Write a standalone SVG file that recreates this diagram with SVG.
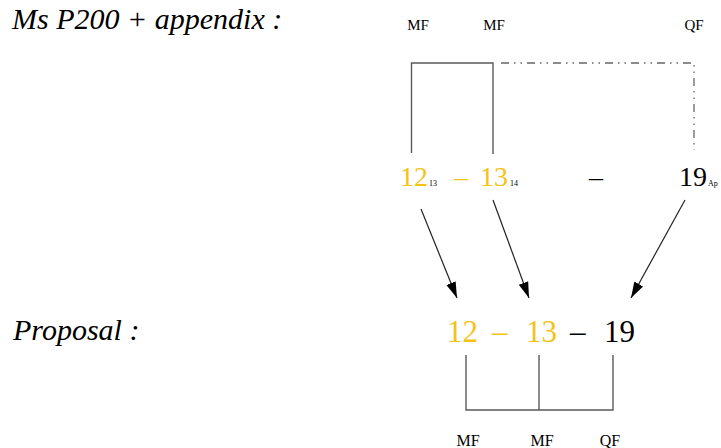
<svg xmlns="http://www.w3.org/2000/svg" width="721" height="448" viewBox="0 0 721 448">
<defs>
<style>
.t{font-family:"Liberation Serif","Times New Roman",serif;}
.ti{font-family:"Liberation Serif","Times New Roman",serif;font-style:italic;font-size:30px;fill:#000;}
.lab{font-size:15px;fill:#000;text-anchor:middle;}
.blab{font-size:16px;fill:#000;text-anchor:middle;}
.num{font-size:28px;}
.bnum{font-size:31px;}
.sub{font-size:8px;}
.y{fill:#F3C318;}
.k{fill:#000;}
.br{fill:none;stroke:#5a5a5a;stroke-width:1.4;}
.dd{fill:none;stroke:#666;stroke-width:1.3;stroke-dasharray:8 5 1.5 5 1.5 5;}
.ar{stroke:#222;stroke-width:1.2;fill:none;marker-end:url(#ah);}
</style>
<marker id="ah" markerUnits="userSpaceOnUse" markerWidth="17" markerHeight="12" refX="16" refY="5" orient="auto" viewBox="0 0 17 10">
<path d="M0,0 L16,5 L0,10 z" fill="#000"/>
</marker>
</defs>
<rect width="721" height="448" fill="#fff"/>
<g id="title-ms">
<text class="ti" x="12" y="29">Ms P200 + appendix :</text>
</g>
<g id="title-proposal">
<text class="ti" x="13" y="340">Proposal :</text>
</g>
<g id="top-labels" class="t">
<text class="t lab" x="418" y="30">MF</text>
<text class="t lab" x="494" y="30">MF</text>
<text class="t lab" x="694" y="30">QF</text>
</g>
<g id="ms-row" class="t">
<text class="t num y" x="400" y="186">12</text>
<text class="t sub k" x="429" y="186">13</text>
<text class="t num y" x="454" y="186">–</text>
<text class="t num y" x="480" y="186">13</text>
<text class="t sub k" x="510" y="186">14</text>
<text class="t num k" x="589" y="186">–</text>
<text class="t num k" x="679" y="186">19</text>
<text class="t sub k" x="708" y="186">Ap</text>
</g>
<g id="proposal-row" class="t">
<text class="t bnum y" x="447" y="342">12</text>
<text class="t bnum y" x="492" y="342">–</text>
<text class="t bnum y" x="526" y="342">13</text>
<text class="t bnum k" x="570" y="342">–</text>
<text class="t bnum k" x="604" y="342">19</text>
</g>
<g id="bottom-labels">
<text class="t blab" x="468" y="446">MF</text>
<text class="t blab" x="542" y="446">MF</text>
<text class="t blab" x="610" y="446">QF</text>
</g>
<g id="connectors">
<path class="br" d="M411.5,153 V63 H493 V154"/>
<path class="dd" d="M501,63 H694 V150"/>
<path class="br" d="M466,355 V410 H613 V355 M539,355 V410"/>
<line class="ar" x1="421" y1="209" x2="457" y2="298"/>
<line class="ar" x1="493" y1="200" x2="529" y2="298"/>
<line class="ar" x1="685" y1="200" x2="631" y2="298"/>
</g>
</svg>
